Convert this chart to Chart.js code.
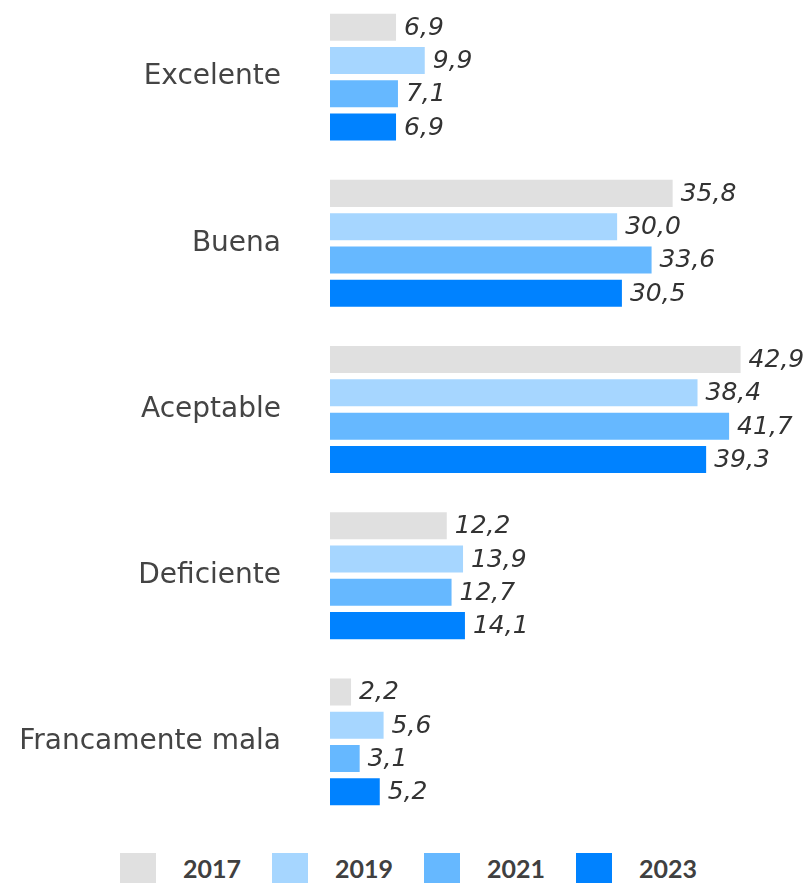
<!DOCTYPE html>
<html>
<head>
<meta charset="utf-8">
<script src="https://cdn.jsdelivr.net/npm/chart.js@4.4.1/dist/chart.umd.min.js"></script>
<style>
    html, body { margin: 0; padding: 0; background: #fff; overflow: hidden; }
    #wrap { position: relative; width: 807px; height: 883px; overflow: hidden; }
    #chartBox { position: absolute; left: 0; top: -6px; width: 807px; height: 831px; }
    #legend { position: absolute; left: 120px; top: 853px; display: flex; }
    .item { display: flex; width: 152px; }
    .box { width: 36px; height: 36px; margin-right: 27px; }
    .txt { font-family: Lato, sans-serif; font-weight: bold; font-size: 25px; color: #404040; line-height: 30px; }
</style>
</head>
<body>
<div id="wrap">
    <div id="chartBox"><canvas id="barChart"></canvas></div>
    <div id="legend"></div>
</div>
<script>
var categories = ['Excelente', 'Buena', 'Aceptable', 'Deficiente', 'Francamente mala'];
var years = ['2017', '2019', '2021', '2023'];
var values2017 = [6.9, 35.8, 42.9, 12.2, 2.2];
var values2019 = [9.9, 30.0, 38.4, 13.9, 5.6];
var values2021 = [7.1, 33.6, 41.7, 12.7, 3.1];
var values2023 = [6.9, 30.5, 39.3, 14.1, 5.2];
var colors = ['#e0e0e0', '#a6d6ff', '#66b8ff', '#0082ff'];

var series = [values2017, values2019, values2021, values2023];

// etiquetas de valor al final de cada barra
var valueLabels = {
    id: 'valueLabels',
    afterDatasetsDraw: function (chart) {
        var ctx = chart.ctx;
        ctx.save();
        ctx.font = 'italic 25px "DejaVu Sans"';
        ctx.fillStyle = '#333333';
        ctx.textAlign = 'left';
        ctx.textBaseline = 'middle';
        chart.data.datasets.forEach(function (ds, i) {
            chart.getDatasetMeta(i).data.forEach(function (bar, j) {
                var txt = ds.data[j].toFixed(1).replace('.', ',');
                ctx.fillText(txt, bar.x + 8, bar.y + 1);
            });
        });
        ctx.restore();
    }
};

var ctx = document.getElementById('barChart').getContext('2d');
var myChart = new Chart(ctx, {
    type: 'bar',
    data: {
        labels: categories,
        datasets: years.map(function (y, i) {
            return {
                label: y,
                data: series[i],
                backgroundColor: colors[i],
                categoryPercentage: 0.801,
                barPercentage: 0.812,
            };
        }),
    },
    options: {
        indexAxis: 'y',
        responsive: true,
        maintainAspectRatio: false,
        animation: false,
        layout: {
            padding: { left: 0, right: 17.6, top: 0, bottom: 0 },
        },
        plugins: {
            legend: { display: false },
            tooltip: { enabled: false },
        },
        scales: {
            x: {
                display: false,
                min: 0,
                max: 48,
            },
            y: {
                grid: { display: false, drawTicks: false },
                border: { display: false },
                ticks: {
                    padding: 49,
                    color: '#444444',
                    font: { family: '"DejaVu Sans"', size: 28 },
                },
                afterFit: function (axis) {
                    axis.width = 330;
                    // the tick padding should not shrink the plot vertically
                    axis.paddingTop = 0;
                    axis.paddingBottom = 0;
                },
            },
        },
    },
    plugins: [valueLabels],
});

var legendHtml = '';
myChart.data.datasets.forEach(function (ds) {
    legendHtml += '<div class="item"><span class="box" style="background:' + ds.backgroundColor + '"></span>' +
        '<span class="txt">' + ds.label + '</span></div>';
});
document.getElementById('legend').innerHTML = legendHtml;
</script>
</body>
</html>
